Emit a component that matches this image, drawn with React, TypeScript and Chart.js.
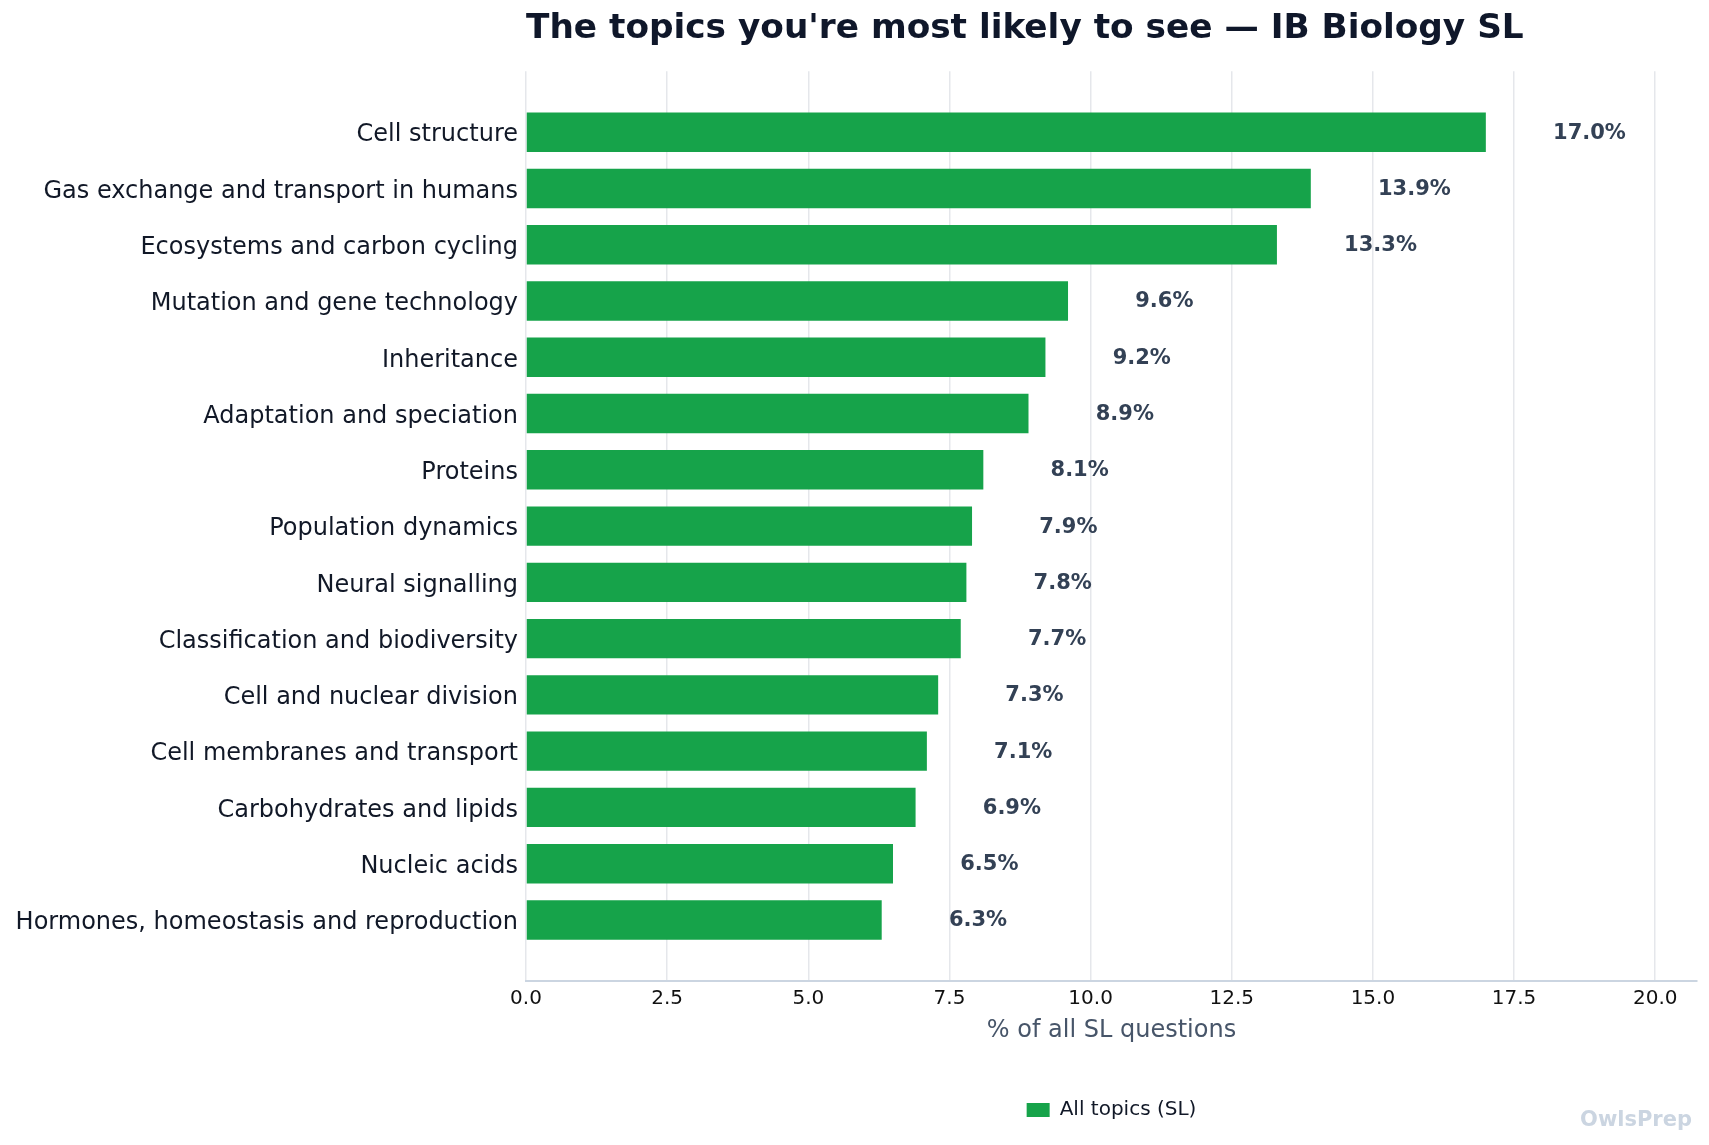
import React, { useEffect, useRef } from 'react';
import { Chart, registerables } from 'chart.js';

Chart.register(...registerables);

// topics, most frequent first (shown top to bottom)
const topics = [
	'Cell structure',
	'Gas exchange and transport in humans',
	'Ecosystems and carbon cycling',
	'Mutation and gene technology',
	'Inheritance',
	'Adaptation and speciation',
	'Proteins',
	'Population dynamics',
	'Neural signalling',
	'Classification and biodiversity',
	'Cell and nuclear division',
	'Cell membranes and transport',
	'Carbohydrates and lipids',
	'Nucleic acids',
	'Hormones, homeostasis and reproduction',
];

const shares = [17.0, 13.9, 13.3, 9.6, 9.2, 8.9, 8.1, 7.9, 7.8, 7.7, 7.3, 7.1, 6.9, 6.5, 6.3];

const xTicks = [0, 2.5, 5, 7.5, 10, 12.5, 15, 17.5, 20];

const FONT = "'DejaVu Sans', sans-serif";
const GREEN = '#16a34a';
const BAR = 0.7;
// matplotlib-like 5% margin around the bar extents
const Y_PAD = BAR / 2 + (topics.length - 1 + BAR) * 0.05;

const valueLabels = {
	id: 'valueLabels',
	afterDatasetsDraw(chart: Chart) {
		const { ctx, scales } = chart;
		const offset = Math.max(...shares) * 0.07;
		ctx.save();
		ctx.font = `bold 21px ${FONT}`;
		ctx.fillStyle = '#334155';
		ctx.textAlign = 'left';
		ctx.textBaseline = 'middle';
		shares.forEach((v, i) => {
			const x = scales.x.getPixelForValue(v + offset);
			const y = scales.y.getPixelForValue(i) + 1;
			ctx.fillText(`${v.toFixed(1)}%`, x, y);
		});
		ctx.restore();
	},
};

const watermark = {
	id: 'watermark',
	afterDraw(chart: Chart) {
		const { ctx, width, height } = chart;
		ctx.save();
		ctx.font = `bold 21px ${FONT}`;
		ctx.fillStyle = '#cbd5e1';
		ctx.textAlign = 'right';
		ctx.textBaseline = 'middle';
		ctx.fillText('OwlsPrep', width - 17, height - 24);
		ctx.restore();
	},
};

export default function App() {
	const canvasRef = useRef<HTMLCanvasElement>(null);
	const chartRef = useRef<Chart | null>(null);

	useEffect(() => {
		document.body.style.margin = '0';
		if (!canvasRef.current) return;
		if (chartRef.current) chartRef.current.destroy();

		chartRef.current = new Chart(canvasRef.current, {
			type: 'bar',
			data: {
				datasets: [
					{
						label: 'All topics (SL)',
						data: shares.map((v, i) => ({ x: v, y: i })),
						backgroundColor: GREEN,
						borderWidth: 0,
						barPercentage: BAR,
						categoryPercentage: 1,
					},
				],
			},
			options: {
				indexAxis: 'y',
				animation: false,
				responsive: false,
				layout: { padding: { left: 0, right: 12, top: 0, bottom: 15 } },
				scales: {
					x: {
						type: 'linear',
						min: 0,
						max: Math.max(...shares) * 1.22,
						afterBuildTicks: (axis: any) => {
							axis.ticks = xTicks.map((value) => ({ value }));
						},
						afterFit: (axis: any) => {
							axis.height = 97;
						},
						grid: { color: '#e5e7eb', lineWidth: 1.5, drawTicks: false },
						border: { color: '#cbd5e1', width: 2 },
						ticks: {
							color: '#111111',
							font: { family: FONT, size: 20 },
							padding: 6,
							callback: (v: any) => Number(v).toFixed(1),
						},
						title: {
							display: true,
							text: '% of all SL questions',
							color: '#475569',
							font: { family: FONT, size: 24 },
							padding: { top: 0, bottom: 33 },
						},
					},
					y: {
						type: 'linear',
						reverse: true,
						offset: false,
						min: -Y_PAD,
						max: topics.length - 1 + Y_PAD,
						afterBuildTicks: (axis: any) => {
							axis.ticks = topics.map((_, i) => ({ value: i }));
						},
						afterFit: (axis: any) => {
							axis.width = 526;
						},
						grid: { display: false, drawTicks: false },
						border: { display: false },
						ticks: {
							color: '#111827',
							font: { family: FONT, size: 24 },
							padding: 8,
							labelOffset: 3,
							autoSkip: false,
							callback: (v: any) => topics[v] ?? '',
						},
					},
				},
				plugins: {
					title: {
						display: true,
						text: "The topics you're most likely to see — IB Biology SL",
						align: 'start',
						fullSize: false,
						color: '#0f172a',
						font: { family: FONT, size: 34.3, weight: 'bold' },
						padding: { top: 9, bottom: 21 },
					},
					legend: {
						position: 'bottom',
						fullSize: false,
						labels: {
							color: '#111827',
							font: { family: FONT, size: 20 },
							boxWidth: 23,
							boxHeight: 14,
							padding: 22,
						},
					},
					tooltip: { enabled: false },
				},
			},
			plugins: [valueLabels, watermark],
		});

		return () => {
			if (chartRef.current) {
				chartRef.current.destroy();
				chartRef.current = null;
			}
		};
	}, []);

	return (
		<div style={{ width: 1709, height: 1145, background: '#fff' }}>
			<canvas ref={canvasRef} width={1709} height={1145} style={{ fontFamily: FONT }} />
		</div>
	);
}
